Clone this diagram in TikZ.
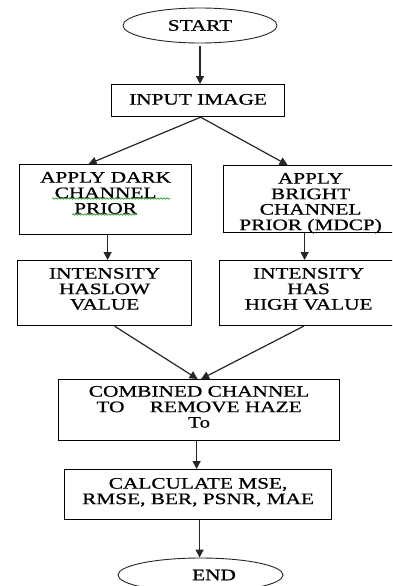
\documentclass[tikz,border=0pt]{standalone}
\usepackage{fontspec}
\setmainfont{Liberation Serif}[FakeStretch=1.33, FakeBold=0.8]
\usetikzlibrary{shapes.geometric, arrows.meta, decorations.pathmorphing}
\tikzstyle{startstop} = [ellipse, draw=black!85, line width=0.9pt, inner sep=0pt]
\tikzstyle{block} = [rectangle, draw, line width=1.2pt, inner sep=0pt, align=center, anchor=north west]
\tikzstyle{arrow} = [-{Triangle[length=8pt, width=8pt]}, line width=1.2pt, draw=black!85]
\tikzstyle{spell} = [draw=green!60!black, line width=0.6pt, decorate, decoration={snake, amplitude=0.7pt, segment length=3pt}]

\begin{document}
\begin{tikzpicture}[x=1pt, y=-1pt, font=\fontsize{16pt}{15.5pt}\selectfont]
    \clip (0,0) rectangle (392,586);

    % Start
    \node[startstop, minimum width=154pt, minimum height=35pt] (start) at (200,25.5) {START};

    % Input
    \node[block, minimum width=173pt, text width=173pt, text height=20pt, text depth=12pt] (input) at (111,84) {INPUT IMAGE};

    % Channel priors
    \node[block, minimum width=172pt, text width=172pt, text height=18pt, text depth=52pt] (dark) at (19,164) {APPLY DARK\\CHANNEL\\PRIOR};
    \node[block, minimum width=174pt, text width=174pt, text height=18pt, text depth=49pt] (bright) at (223,165) {APPLY\\BRIGHT\\CHANNEL\\PRIOR (MDCP)};

    % Intensity
    \node[block, minimum width=174pt, text width=174pt, text height=18pt, text depth=47pt] (low) at (17,260) {INTENSITY\\HASLOW\\VALUE};
    \node[block, minimum width=178pt, text width=178pt, text height=18pt, text depth=47pt] (high) at (219,260) {INTENSITY\\HAS\\HIGH VALUE};

    % Combined channel
    \node[block, minimum width=281pt, text width=281pt, text height=17pt, text depth=44pt] (combine) at (58,379) {COMBINED CHANNEL\\TO\hspace{20pt} REMOVE HAZE\\To};

    % Metrics
    \node[block, minimum width=267pt, text width=267pt, text height=19pt, text depth=31pt] (metrics) at (64,469) {CALCULATE MSE,\\RMSE, BER, PSNR, MAE};

    % End
    \node[startstop, minimum width=165pt, minimum height=34pt] (end) at (200.5,575) {\hspace*{27pt}END};

    % Arrows
    \draw[arrow] ([yshift=-3pt]start.south) -- (start.south |- input.north);
    \draw[arrow] ([xshift=2.5pt]input.south) -- ([xshift=-17pt]dark.north);
    \draw[arrow] ([xshift=2.5pt]input.south) -- ([xshift=-23pt]bright.north);
    \draw[arrow] ([xshift=2pt]dark.south) -- ([xshift=2pt]dark.south |- low.north);
    \draw[arrow] ([xshift=-6pt]bright.south) -- ([xshift=-6pt]bright.south |- high.north);
    \draw[arrow] ([xshift=10pt]low.south) -- ([xshift=-1.5pt]combine.north);
    \draw[arrow] ([xshift=-5pt]high.south) -- ([xshift=2pt]combine.north);
    \draw[arrow] ([xshift=-2.5pt]combine.south) -- ([xshift=-2.5pt]combine.south |- metrics.north);
    \draw[arrow] ([xshift=1.5pt]metrics.south) -- ([xshift=1.5pt]metrics.south |- end.north);

    % Spelling marks
    \draw[spell] (52,198.5) -- (170,198.5);
    \draw[spell] (72,214.5) -- (137,214.5);
\end{tikzpicture}
\end{document}
